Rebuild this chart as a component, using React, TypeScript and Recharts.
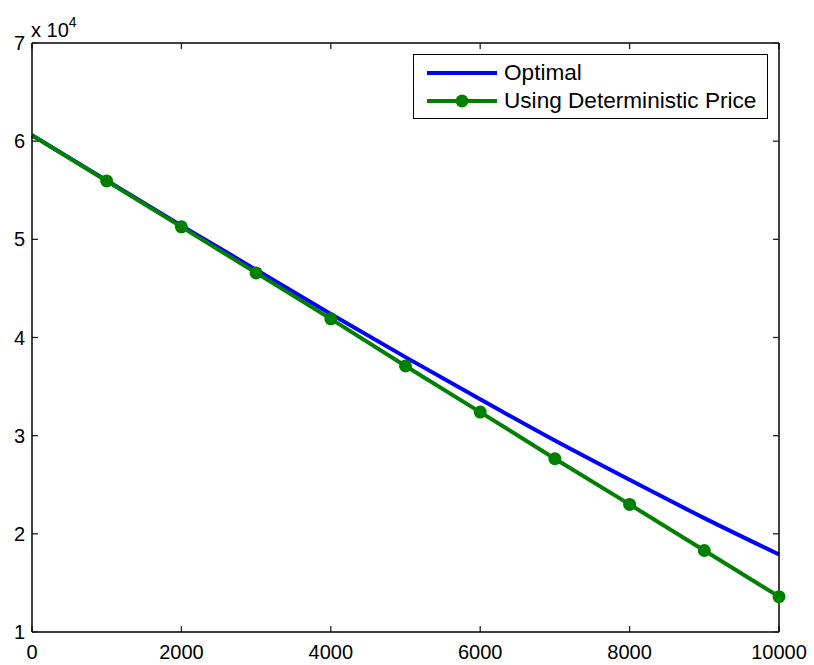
import { Legend, Line, LineChart, XAxis, YAxis } from "recharts";

const xValues = [0, 1000, 2000, 3000, 4000, 5000, 6000, 7000, 8000, 9000, 10000];
const optimal = [6.06, 5.6, 5.14, 4.69, 4.24, 3.8, 3.37, 2.95, 2.55, 2.16, 1.79];
const deterministic = [6.06, 5.595, 5.127, 4.658, 4.19, 3.71, 3.24, 2.765, 2.3, 1.83, 1.36];
const xTicks = [0, 2000, 4000, 6000, 8000, 10000];
const yTicks = [1, 2, 3, 4, 5, 6, 7];

const data = xValues.map((x, i) => ({
  x,
  optimal: optimal[i] * 10000,
  deterministic: deterministic[i] * 10000
}));

const FONT = "Arial, 'Liberation Sans', Helvetica, sans-serif";
const BLUE = "#0000ff";
const GREEN = "#008000";
const AXIS = { stroke: "#000", strokeWidth: 1.5 };
const TICK = { stroke: "#222", strokeWidth: 1.3 };

const noTick = () => <g />;

function LegendBox() {
  const rows = [
    { label: "Optimal", color: BLUE, dot: false },
    { label: "Using Deterministic Price", color: GREEN, dot: true }
  ];
  return (
    <div
      style={{
        border: "1.5px solid #000",
        background: "#fff",
        width: 353,
        height: 63,
        boxSizing: "content-box",
        fontFamily: FONT,
        fontSize: 22.6,
        color: "#000"
      }}
    >
      {rows.map((r, i) => (
        <div key={r.label} style={{ position: "absolute", left: 14, top: i === 0 ? 6 : 34, height: 26, display: "flex", alignItems: "center" }}>
          <svg width={70} height={16} style={{ marginRight: 7 }}>
            <line x1={0} y1={8} x2={70} y2={8} stroke={r.color} strokeWidth={4} />
            {r.dot && <circle cx={35} cy={8} r={6.5} fill={r.color} />}
          </svg>
          <span style={{ whiteSpace: "nowrap" }}>{r.label}</span>
        </div>
      ))}
    </div>
  );
}

export default function App() {
  const yTickValues = yTicks.map((t) => t * 10000);
  return (
    <div style={{ position: "absolute", left: 0, top: 0, width: 814, height: 665, background: "#fff" }}>
      <div style={{ position: "absolute", left: 31, top: 12, fontFamily: FONT, fontSize: 20, lineHeight: "24px", color: "#000" }}>
        x 10<sup style={{ fontSize: 14, position: "relative", top: -2 }}>4</sup>
      </div>
      <LineChart width={814} height={665} data={data} margin={{ top: 43, right: 35, bottom: 0, left: 0 }}>
        <XAxis
          xAxisId="bottomTicks"
          dataKey="x"
          type="number"
          domain={[0, 10000]}
          ticks={xTicks}
          height={33}
          tickSize={6}
          mirror
          axisLine={false}
          tickLine={TICK}
          tick={noTick}
          interval={0}
        />
        <XAxis
          dataKey="x"
          type="number"
          domain={[0, 10000]}
          ticks={xTicks}
          height={33}
          tickLine={false}
          tickMargin={7}
          axisLine={AXIS}
          tick={{ fill: "#000", fontSize: 20, fontFamily: FONT }}
          interval={0}
        />
        <XAxis
          xAxisId="top"
          dataKey="x"
          type="number"
          orientation="top"
          domain={[0, 10000]}
          ticks={xTicks}
          tickSize={6}
          mirror
          axisLine={AXIS}
          tickLine={TICK}
          tick={noTick}
          interval={0}
        />
        <YAxis
          yAxisId="leftTicks"
          type="number"
          domain={[10000, 70000]}
          allowDataOverflow
          ticks={yTickValues}
          width={32}
          tickSize={6}
          mirror
          axisLine={false}
          tickLine={TICK}
          tick={noTick}
          interval={0}
        />
        <YAxis
          type="number"
          domain={[10000, 70000]}
          ticks={yTickValues}
          tickFormatter={(v: number) => String(v / 10000)}
          width={32}
          tickLine={false}
          tickMargin={1}
          axisLine={AXIS}
          tick={{ fill: "#000", fontSize: 20, fontFamily: FONT }}
          interval={0}
        />
        <YAxis
          yAxisId="right"
          type="number"
          orientation="right"
          domain={[10000, 70000]}
          allowDataOverflow
          ticks={yTickValues}
          tickSize={6}
          mirror
          axisLine={AXIS}
          tickLine={TICK}
          tick={noTick}
          interval={0}
        />
        <Legend
          layout="horizontal"
          verticalAlign="middle"
          align="center"
          wrapperStyle={{ left: 413, top: 54, width: 356, height: 66 }}
          content={() => <LegendBox />}
        />
        <Line
          type="monotone"
          dataKey="optimal"
          stroke={BLUE}
          strokeWidth={4}
          dot={false}
          isAnimationActive={false}
        />
        <Line
          type="linear"
          dataKey="deterministic"
          stroke={GREEN}
          strokeWidth={4}
          isAnimationActive={false}
          dot={(p: any) =>
            p.index === 0 ? (
              <g key={`d${p.index}`} />
            ) : (
              <circle key={`d${p.index}`} cx={p.cx} cy={p.cy} r={6.5} fill={GREEN} />
            )
          }
        />
      </LineChart>
    </div>
  );
}
